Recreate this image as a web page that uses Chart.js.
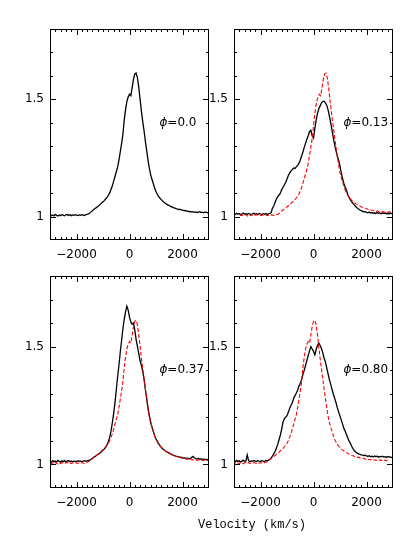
<!DOCTYPE html>
<html>
<head>
<meta charset="utf-8">
<script src="https://cdn.jsdelivr.net/npm/chart.js@4.4.1/dist/chart.umd.min.js"></script>
<style>
  html, body { margin: 0; padding: 0; background: #fff; }
  #wrap { position: relative; width: 415px; height: 553px; overflow: hidden; }
  #wrap canvas { position: absolute; }
  #xtitle {
    position: absolute; left: 198px; top: 518px;
    font: 12px "Liberation Mono", "Courier New", Courier, monospace;
    color: #000; white-space: pre;
  }
</style>
</head>
<body>
<div id="wrap">
  <canvas id="p1" width="215" height="270" style="left:0;top:0"></canvas>
  <canvas id="p2" width="215" height="270" style="left:184px;top:0"></canvas>
  <canvas id="p3" width="215" height="271" style="left:0;top:247px"></canvas>
  <canvas id="p4" width="215" height="271" style="left:184px;top:247px"></canvas>
  <div id="xtitle">Velocity (km/s)</div>
</div>
<script>
// ---------------------------------------------------------------------------
// Data: line profiles, flux vs velocity (km/s)
// ---------------------------------------------------------------------------
const velocity = [
  -3000, -2950, -2900, -2850, -2800, -2750, -2700, -2650, -2600, -2550,
  -2500, -2450, -2400, -2350, -2300, -2250, -2200, -2150, -2100, -2050,
  -2000, -1950, -1900, -1850, -1800, -1750, -1700, -1650, -1600, -1550,
  -1500, -1450, -1400, -1350, -1300, -1250, -1200, -1150, -1100, -1050,
  -1000, -950, -900, -850, -800, -750, -700, -650, -600, -550,
  -500, -450, -400, -350, -300, -250, -200, -150, -100, -50,
  0, 50, 100, 150, 200, 250, 300, 350, 400, 450,
  500, 550, 600, 650, 700, 750, 800, 850, 900, 950,
  1000, 1050, 1100, 1150, 1200, 1250, 1300, 1350, 1400, 1450,
  1500, 1550, 1600, 1650, 1700, 1750, 1800, 1850, 1900, 1950,
  2000, 2050, 2100, 2150, 2200, 2250, 2300, 2350, 2400, 2450,
  2500, 2550, 2600, 2650, 2700, 2750, 2800, 2850, 2900, 2950,
  3000
];

// phi = 0.0 (also the red dashed comparison profile)
const flux00 = [
  1.008, 1.004, 1.007, 1.003, 1.009, 1.005, 1.002, 1.007, 1.004, 1.008,
  1.006, 1.003, 1.007, 1.009, 1.005, 1.008, 1.004, 1.007, 1.005, 1.008,
  1.006, 1.004, 1.007, 1.005, 1.008, 1.006, 1.004, 1.008, 1.009, 1.011,
  1.015, 1.020, 1.025, 1.030, 1.034, 1.038, 1.043, 1.047, 1.052, 1.058,
  1.063, 1.068, 1.075, 1.082, 1.090, 1.100, 1.115, 1.130, 1.150, 1.170,
  1.190, 1.210, 1.240, 1.275, 1.310, 1.350, 1.410, 1.455, 1.490, 1.510,
  1.522, 1.515, 1.550, 1.585, 1.608, 1.612, 1.592, 1.550, 1.500, 1.450,
  1.405, 1.365, 1.320, 1.280, 1.240, 1.205, 1.178, 1.158, 1.140, 1.122,
  1.106, 1.095, 1.085, 1.078, 1.072, 1.066, 1.061, 1.057, 1.053, 1.050,
  1.047, 1.043, 1.041, 1.038, 1.037, 1.034, 1.033, 1.030, 1.031, 1.028,
  1.027, 1.025, 1.026, 1.022, 1.024, 1.020, 1.022, 1.019, 1.021, 1.018,
  1.020, 1.017, 1.019, 1.021, 1.017, 1.019, 1.016, 1.020, 1.018, 1.016,
  1.018
];

// phi = 0.13
const flux13 = [
  1.012, 1.009, 1.014, 1.010, 1.013, 1.008, 1.011, 1.015, 1.010, 1.012,
  1.009, 1.013, 1.011, 1.008, 1.012, 1.014, 1.010, 1.012, 1.009, 1.013,
  1.011, 1.008, 1.012, 1.010, 1.013, 1.009, 1.011, 1.014, 1.016, 1.035,
  1.045, 1.060, 1.075, 1.085, 1.092, 1.100, 1.115, 1.125, 1.135, 1.145,
  1.160, 1.175, 1.185, 1.195, 1.200, 1.207, 1.205, 1.212, 1.218, 1.228,
  1.240, 1.258, 1.275, 1.295, 1.312, 1.330, 1.345, 1.362, 1.368, 1.345,
  1.335, 1.375, 1.410, 1.440, 1.460, 1.472, 1.485, 1.490, 1.492, 1.485,
  1.475, 1.455, 1.428, 1.400, 1.368, 1.335, 1.305, 1.280, 1.258, 1.240,
  1.215, 1.185, 1.160, 1.140, 1.125, 1.110, 1.092, 1.080, 1.070, 1.062,
  1.055, 1.048, 1.042, 1.036, 1.032, 1.028, 1.025, 1.022, 1.020, 1.021,
  1.018, 1.016, 1.019, 1.015, 1.017, 1.014, 1.016, 1.013, 1.017, 1.014,
  1.015, 1.012, 1.016, 1.013, 1.015, 1.012, 1.014, 1.011, 1.015, 1.013,
  1.012
];

// phi = 0.37
const flux37 = [
  1.014, 1.010, 1.016, 1.012, 1.015, 1.011, 1.017, 1.013, 1.010, 1.015,
  1.012, 1.016, 1.011, 1.014, 1.017, 1.012, 1.015, 1.011, 1.014, 1.013,
  1.012, 1.016, 1.013, 1.015, 1.011, 1.014, 1.016, 1.013, 1.015, 1.017,
  1.018, 1.022, 1.026, 1.030, 1.034, 1.038, 1.042, 1.046, 1.050, 1.055,
  1.060, 1.066, 1.073, 1.082, 1.095, 1.115, 1.140, 1.175, 1.215, 1.260,
  1.315, 1.370, 1.420, 1.475, 1.525, 1.575, 1.615, 1.648, 1.672, 1.655,
  1.625, 1.605, 1.595, 1.600, 1.570, 1.530, 1.500, 1.470, 1.440, 1.420,
  1.395, 1.360, 1.318, 1.278, 1.238, 1.205, 1.178, 1.158, 1.140, 1.122,
  1.108, 1.098, 1.088, 1.080, 1.073, 1.067, 1.062, 1.058, 1.054, 1.051,
  1.048, 1.045, 1.042, 1.040, 1.037, 1.035, 1.034, 1.032, 1.030, 1.031,
  1.029, 1.027, 1.028, 1.025, 1.027, 1.024, 1.026, 1.030, 1.034, 1.028,
  1.025, 1.023, 1.026, 1.022, 1.024, 1.021, 1.023, 1.020, 1.022, 1.019,
  1.021
];

// phi = 0.80
const flux80 = [
  1.015, 1.012, 1.017, 1.013, 1.016, 1.011, 1.014, 1.018, 1.013, 1.015,
  1.040, 1.016, 1.012, 1.015, 1.013, 1.017, 1.014, 1.012, 1.016, 1.014,
  1.013, 1.016, 1.014, 1.012, 1.017, 1.015, 1.018, 1.022, 1.028, 1.035,
  1.045, 1.055, 1.070, 1.085, 1.105, 1.125, 1.150, 1.180, 1.195, 1.200,
  1.207, 1.222, 1.238, 1.250, 1.262, 1.280, 1.292, 1.302, 1.315, 1.332,
  1.345, 1.360, 1.382, 1.400, 1.420, 1.442, 1.462, 1.482, 1.500, 1.490,
  1.480, 1.465, 1.488, 1.505, 1.515, 1.505, 1.492, 1.475, 1.452, 1.435,
  1.410, 1.385, 1.360, 1.340, 1.318, 1.298, 1.280, 1.262, 1.240, 1.222,
  1.205, 1.188, 1.170, 1.152, 1.140, 1.125, 1.110, 1.098, 1.088, 1.075,
  1.065, 1.058, 1.052, 1.048, 1.045, 1.043, 1.041, 1.040, 1.038, 1.039,
  1.036, 1.034, 1.037, 1.033, 1.035, 1.032, 1.036, 1.033, 1.035, 1.031,
  1.034, 1.032, 1.035, 1.031, 1.033, 1.030, 1.034, 1.031, 1.032, 1.029,
  1.031
];

const phaseLabels = ['0.0', '0.13', '0.37', '0.80'];
// velocity offset (km/s) applied to the phi=0.0 profile drawn red in panels 2-4
const comparisonShift = [null, 220, 0, -200];

const xTickLabels = [-2000, 0, 2000];
const yTickLabels = [1, 1.5];

// ---------------------------------------------------------------------------
// Inward ticks on all four sides + box + phase label (PGPLOT look)
// ---------------------------------------------------------------------------
const frameTicks = {
  id: 'frameTicks',
  afterDraw(chart) {
    const { ctx, chartArea: a, scales: { x, y } } = chart;
    ctx.save();
    ctx.setLineDash([]);
    ctx.strokeStyle = '#000000';
    ctx.lineWidth = 1;
    ctx.beginPath();
    for (let v = -2800; v <= 2800; v += 200) {
      const len = v % 2000 === 0 ? 6 : 3;
      const px = Math.round(x.getPixelForValue(v)) + 0.5;
      ctx.moveTo(px, a.bottom);
      ctx.lineTo(px, a.bottom - len);
      ctx.moveTo(px, a.top);
      ctx.lineTo(px, a.top + len);
    }
    for (let k = 10; k <= 17; k++) {
      const len = k % 5 === 0 ? 6 : 3;
      const py = Math.round(y.getPixelForValue(k / 10)) + 0.5;
      ctx.moveTo(a.left, py);
      ctx.lineTo(a.left + len, py);
      ctx.moveTo(a.right, py);
      ctx.lineTo(a.right - len, py);
    }
    ctx.stroke();
    ctx.strokeRect(a.left + 0.5, a.top + 0.5, a.width - 1, a.height - 1);

    // phase label
    const label = chart.options.plugins.frameTicks.phase;
    const lx = x.getPixelForValue(1130);
    const ly = y.getPixelForValue(1.4);
    ctx.fillStyle = '#000';
    ctx.textBaseline = 'middle';
    ctx.textAlign = 'left';
    ctx.font = 'italic 12px "DejaVu Sans"';
    ctx.fillText('\u03d5', lx, ly);
    const w = ctx.measureText('\u03d5').width;
    ctx.font = '12px "DejaVu Sans"';
    ctx.fillText('=' + label, lx + w, ly);
    ctx.restore();
  }
};

Chart.defaults.font.family = '"DejaVu Sans", sans-serif';
Chart.defaults.font.size = 12;
Chart.defaults.color = '#000';

function makePanel(id, flux, idx) {
  const datasets = [];
  if (comparisonShift[idx] !== null) {
    datasets.push({
      data: velocity.map((v, i) => ({ x: v + comparisonShift[idx], y: flux00[i] })),
      borderColor: '#ff0000',
      borderWidth: 1.1,
      borderDash: [4, 2],
      pointRadius: 0,
      order: 0
    });
  }
  datasets.push({
    data: velocity.map((v, i) => ({ x: v, y: flux[i] })),
    borderColor: '#000000',
    borderWidth: 1.3,
    pointRadius: 0,
    order: 1
  });

  return new Chart(document.getElementById(id), {
    type: 'line',
    data: { datasets },
    plugins: [frameTicks],
    options: {
      responsive: false,
      animation: false,
      events: [],
      devicePixelRatio: 1,
      layout: { padding: { top: 29, right: 6, left: 0, bottom: 0 } },
      elements: { line: { tension: 0 } },
      datasets: { line: { clip: 0 } },
      plugins: {
        legend: { display: false },
        tooltip: { enabled: false },
        frameTicks: { phase: phaseLabels[idx] }
      },
      scales: {
        x: {
          type: 'linear', min: -3000, max: 3000,
          grid: { display: false, drawTicks: false },
          border: { display: false },
          afterBuildTicks: s => { s.ticks = xTickLabels.map(v => ({ value: v })); },
          afterFit: s => { s.height = 30; },
          ticks: {
            padding: 8,
            maxRotation: 0,
            callback: v => (v < 0 ? '\u2212' + Math.abs(v) : String(v))
          }
        },
        y: {
          type: 'linear', min: 0.9, max: 1.8,
          grid: { display: false, drawTicks: false },
          border: { display: false },
          afterBuildTicks: s => { s.ticks = yTickLabels.map(v => ({ value: v })); },
          afterFit: s => { s.width = 50; },
          ticks: { padding: 6, callback: v => String(v) }
        }
      }
    }
  });
}

makePanel('p1', flux00, 0);
makePanel('p2', flux13, 1);
makePanel('p3', flux37, 2);
makePanel('p4', flux80, 3);
</script>
</body>
</html>
